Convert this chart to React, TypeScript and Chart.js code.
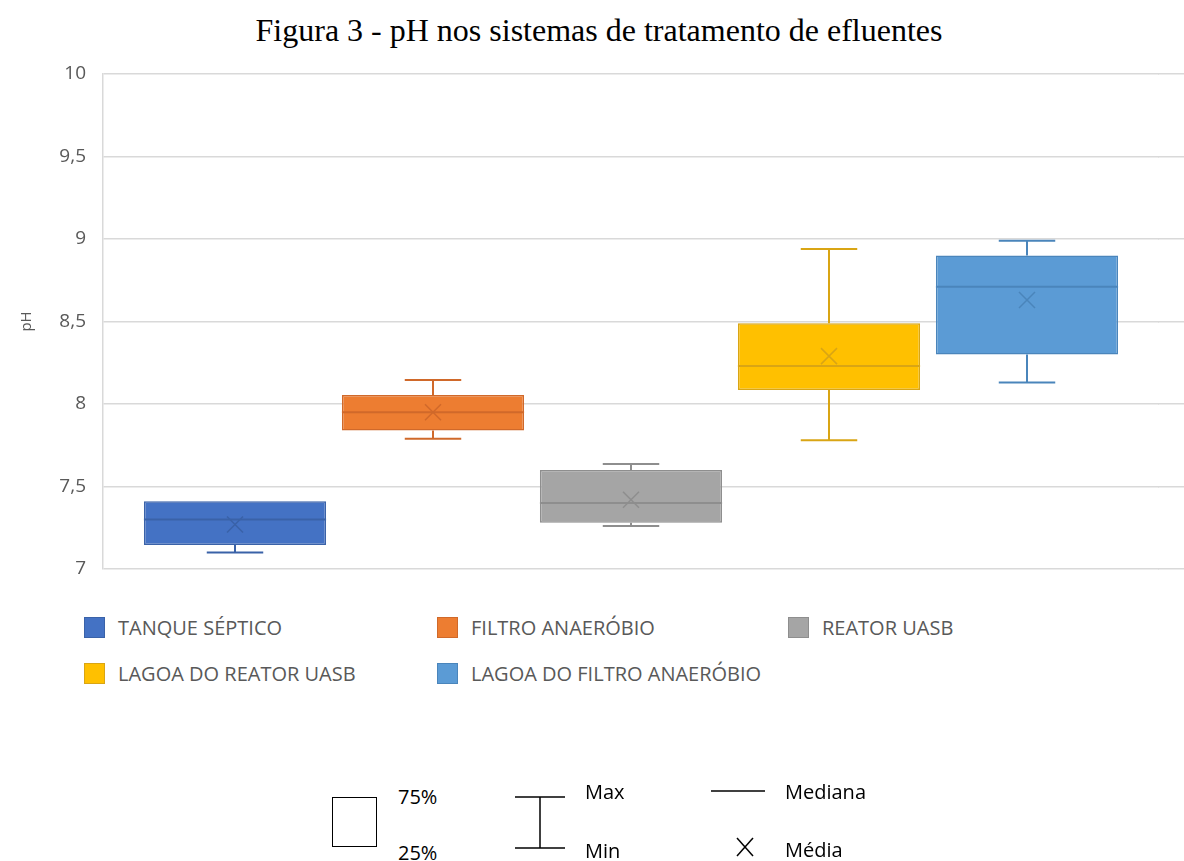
import React, { useEffect, useRef } from "react";
import { Chart, registerables } from "chart.js";

Chart.register(...registerables);

const seriesNames = [
  "TANQUE SÉPTICO",
  "FILTRO ANAERÓBIO",
  "REATOR UASB",
  "LAGOA DO REATOR UASB",
  "LAGOA DO FILTRO ANAERÓBIO",
];
const minValues = [7.1, 7.79, 7.26, 7.78, 8.13];
const q1Values = [7.145, 7.84, 7.28, 8.085, 8.3];
const medianValues = [7.3, 7.95, 7.4, 8.23, 8.71];
const meanValues = [7.27, 7.95, 7.42, 8.29, 8.63];
const q3Values = [7.41, 8.055, 7.6, 8.49, 8.9];
const maxValues = [7.41, 8.145, 7.636, 8.94, 8.99];
const fillColors = ["#4472C4", "#ED7D31", "#A5A5A5", "#FFC000", "#5B9BD5"];
const lineColors = ["#3A62A8", "#D0692A", "#8E8E8E", "#D9A514", "#4A85BB"];
const yTicks = [7, 7.5, 8, 8.5, 9, 9.5, 10];

const FONT = "'Open Sans', 'Noto Sans', sans-serif";
const GRAY = "#595959";
const GRID = "#D9D9D9";
const GRID_W = 1.5;

// extends the horizontal gridlines past the plot's right padding to the canvas edge
const gridExtendPlugin = {
  id: "gridExtend",
  beforeDatasetsDraw(chart: any) {
    const ctx = chart.ctx;
    const y = chart.scales.y;
    const area = chart.chartArea;
    ctx.save();
    ctx.strokeStyle = GRID;
    ctx.lineWidth = GRID_W;
    ctx.beginPath();
    y.ticks.forEach((t: any) => {
      const raw = y.getPixelForValue(t.value);
      const py = Math.round(raw - GRID_W / 2) + GRID_W / 2;
      ctx.moveTo(area.right - 1, py);
      ctx.lineTo(chart.width, py);
    });
    ctx.stroke();
    ctx.restore();
  },
};

const boxPlugin = {
  id: "boxWhiskers",
  afterDatasetsDraw(chart: any) {
    const ctx = chart.ctx;
    const y = chart.scales.y;
    chart.data.datasets.forEach((_: any, i: number) => {
      const meta = chart.getDatasetMeta(i);
      const bar = meta.data[0];
      if (!bar) return;
      const x = bar.x;
      const w = bar.width;
      const left = x - w / 2;
      const right = x + w / 2;
      const cap = w * 0.155;
      const yMin = y.getPixelForValue(minValues[i]);
      const yQ1 = y.getPixelForValue(q1Values[i]);
      const yMed = y.getPixelForValue(medianValues[i]);
      const yMean = y.getPixelForValue(meanValues[i]);
      const yQ3 = y.getPixelForValue(q3Values[i]);
      const yMax = y.getPixelForValue(maxValues[i]);
      ctx.save();
      ctx.strokeStyle = lineColors[i];
      ctx.lineWidth = 2;
      ctx.beginPath();
      if (yMax < yQ3 - 0.5) {
        ctx.moveTo(x, yQ3);
        ctx.lineTo(x, yMax);
        ctx.moveTo(x - cap, yMax);
        ctx.lineTo(x + cap, yMax);
      }
      if (yMin > yQ1 + 0.5) {
        ctx.moveTo(x, yQ1);
        ctx.lineTo(x, yMin);
        ctx.moveTo(x - cap, yMin);
        ctx.lineTo(x + cap, yMin);
      }
      ctx.stroke();
      ctx.beginPath();
      ctx.moveTo(left, yMed);
      ctx.lineTo(right, yMed);
      ctx.stroke();
      ctx.lineWidth = 1.5;
      const s = 8;
      ctx.beginPath();
      ctx.moveTo(x - s, yMean - s);
      ctx.lineTo(x + s, yMean + s);
      ctx.moveTo(x + s, yMean - s);
      ctx.lineTo(x - s, yMean + s);
      ctx.stroke();
      ctx.restore();
    });
  },
};

const abs = (left: number, top: number, extra: any = {}) => ({
  position: "absolute" as const,
  left,
  top,
  ...extra,
});

export default function App() {
  const canvasRef = useRef<HTMLCanvasElement>(null);

  useEffect(() => {
    if (!canvasRef.current) return;
    const chart = new Chart(canvasRef.current, {
      type: "bar",
      data: {
        labels: ["pH"],
        datasets: seriesNames.map((name, i) => ({
          label: name,
          data: [[q1Values[i], q3Values[i]]] as any,
          backgroundColor: fillColors[i],
          borderColor: lineColors[i],
          borderWidth: 1.5,
          borderSkipped: false,
          categoryPercentage: 0.9375,
          barPercentage: 0.92,
        })),
      },
      options: {
        responsive: false,
        animation: false,
        layout: { padding: { top: 0, bottom: 0, left: 0, right: 25 } },
        plugins: {
          legend: { display: false },
          tooltip: { enabled: false },
          title: { display: false },
        },
        scales: {
          x: { display: false },
          y: {
            min: 7,
            max: 10,
            afterFit: (s: any) => {
              s.width = 103;
            },
            afterBuildTicks: (s: any) => {
              s.ticks = yTicks.map((v) => ({ value: v }));
            },
            ticks: {
              color: GRAY,
              font: { family: FONT, size: 19, lineHeight: "22px" },
              padding: 17,
              callback: (v: any) => String(v).replace(".", ","),
            },
            grid: { color: GRID, lineWidth: GRID_W, drawTicks: false },
            border: { display: true, color: GRID, width: GRID_W },
            title: {
              display: true,
              text: "pH",
              color: GRAY,
              font: { family: FONT, size: 15 },
              padding: { top: 18, bottom: 0 },
            },
          },
        },
      },
      plugins: [gridExtendPlugin, boxPlugin],
    });
    return () => chart.destroy();
  }, []);

  const legendPos = [
    [84, 617],
    [437, 617],
    [788, 617],
    [84, 663],
    [437, 663],
  ];

  const keyText = { fontFamily: FONT, fontSize: 20, color: "#000", lineHeight: "24px" };

  return (
    <div style={{ position: "absolute", left: 0, top: 0, width: 1184, height: 861, background: "#fff" }}>
      <div
        style={abs(7, 11, {
          width: 1184,
          textAlign: "center",
          fontFamily: "'Liberation Serif', 'Times New Roman', serif",
          fontSize: 32,
          lineHeight: "38px",
          color: "#000",
        })}
      >
        Figura 3 - pH nos sistemas de tratamento de efluentes
      </div>
      <canvas
        ref={canvasRef}
        width={1184}
        height={551}
        style={abs(0, 46, { width: 1184, height: 551 })}
      />
      {seriesNames.map((name, i) => (
        <div key={name} style={abs(legendPos[i][0], legendPos[i][1], { display: "flex", alignItems: "center" })}>
          <div
            style={{
              width: 21,
              height: 21,
              background: fillColors[i],
              border: `1px solid ${lineColors[i]}`,
              boxSizing: "border-box",
            }}
          />
          <span style={{ marginLeft: 13, fontFamily: FONT, fontSize: 20, color: GRAY, lineHeight: "21px" }}>
            {name}
          </span>
        </div>
      ))}
      {/* key */}
      <div style={abs(332, 797, { width: 45, height: 50, border: "1.5px solid #000", boxSizing: "border-box" })} />
      <div style={abs(398, 785, keyText)}>75%</div>
      <div style={abs(398, 841, keyText)}>25%</div>
      <svg style={abs(0, 0, { overflow: "visible" })} width={1184} height={861}>
        <g stroke="#000" strokeWidth={1.5} fill="none">
          <line x1={515} y1={797} x2={565} y2={797} />
          <line x1={540} y1={797} x2={540} y2={848} />
          <line x1={515} y1={848} x2={565} y2={848} />
          <line x1={711} y1={791} x2={765} y2={791} />
          <line x1={737} y1={838} x2={753} y2={856} />
          <line x1={753} y1={838} x2={737} y2={856} />
        </g>
      </svg>
      <div style={abs(585, 780, keyText)}>Max</div>
      <div style={abs(585, 839, keyText)}>Min</div>
      <div style={abs(785, 780, keyText)}>Mediana</div>
      <div style={abs(785, 838, keyText)}>Média</div>
    </div>
  );
}
